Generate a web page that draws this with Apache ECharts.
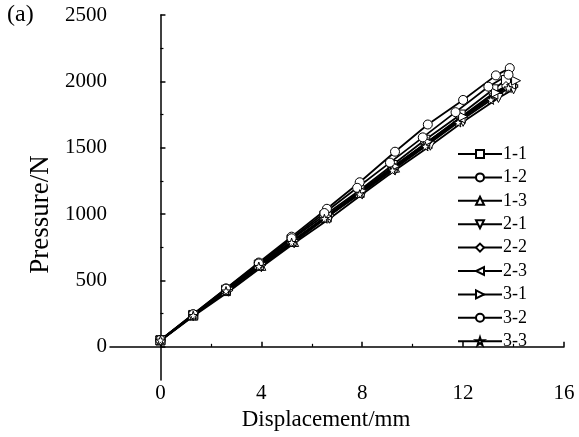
<!DOCTYPE html>
<html><head><meta charset="utf-8">
<script src="https://cdn.jsdelivr.net/npm/echarts@6/dist/echarts.min.js"></script>
<style>html,body{margin:0;padding:0;background:#fff}#c{width:579px;height:437px}</style>
</head><body><div id="c"></div>
<script>
const seriesNames = ['1-1','1-2','1-3','2-1','2-2','2-3','3-1','3-2','3-3'];
const x11 = [0,1.3,2.6,3.9,5.2,6.5,7.9,9.2,10.5,11.9,13.2,13.7];
const y11 = [50,240,430,620,810,990,1180,1370,1560,1750,1940,2010];
const x12 = [0,1.3,2.6,3.9,5.2,6.6,7.9,9.3,10.6,12.0,13.3,13.85];
const y12 = [50,245,440,635,830,1040,1240,1470,1675,1860,2045,2100];
const x13 = [0,1.3,2.6,4.0,5.3,6.6,7.9,9.3,10.6,11.9,13.3,14.0];
const y13 = [48,235,420,610,790,975,1160,1350,1530,1715,1900,1990];
const x21 = [0,1.3,2.7,4.0,5.3,6.7,8.0,9.3,10.7,12.0,13.4,14.0];
const y21 = [45,230,415,600,780,965,1150,1330,1515,1695,1875,1940];
const x22 = [0,1.3,2.6,3.9,5.3,6.6,7.9,9.2,10.6,11.9,13.2,13.7];
const y22 = [50,238,425,612,800,985,1170,1355,1545,1730,1910,1965];
const x23 = [0,1.3,2.6,3.9,5.2,6.6,7.9,9.2,10.5,11.9,13.2,13.9];
const y23 = [52,240,428,612,795,985,1165,1345,1530,1720,1900,1975];
const x31 = [0,1.3,2.7,4.0,5.3,6.6,8.0,9.3,10.6,12.0,13.3,14.1];
const y31 = [48,236,425,615,800,985,1175,1360,1545,1735,1915,2005];
const x32 = [0,1.3,2.6,3.9,5.2,6.5,7.8,9.1,10.4,11.7,13.0,13.8];
const y32 = [52,245,438,628,818,1008,1198,1388,1578,1768,1960,2050];
const x33 = [0,1.3,2.6,3.9,5.2,6.5,7.9,9.2,10.5,11.8,13.1,13.8];
const y33 = [50,235,420,605,785,965,1150,1330,1510,1690,1860,1950];
const xTickLabels = [0,4,8,12,16];
const xMinorTicks = [2,6,10,14];
const yTickLabels = [0,500,1000,1500,2000,2500];
const yMinorTicks = [250,750,1250,1750,2250];

const xs = [x11,x12,x13,x21,x22,x23,x31,x32,x33];
const ys = [y11,y12,y13,y21,y22,y23,y31,y32,y33];
const symbols = [
  'rect','circle','triangle',
  'path://M0,0L10,0L5,10Z',
  'diamond',
  'path://M10,0L10,10L0,5Z',
  'path://M0,0L10,5L0,10Z',
  'circle',
  'path://M5,0L6.2,3.8L10,3.8L6.9,6.1L8.1,10L5,7.6L1.9,10L3.1,6.1L0,3.8L3.8,3.8Z'
];
const font = 'Liberation Serif';
const plain = v => String(v);
const series = seriesNames.map((n,i)=>({
  name:n, type:'line', xAxisIndex:0, yAxisIndex:0,
  data: xs[i].map((x,j)=>[x, ys[i][j]]),
  symbol: symbols[i], symbolSize: 9,
  showAllSymbol:true,
  lineStyle:{color:'#000', width:1.8},
  itemStyle:{color:'#fff', borderColor:'#000', borderWidth:1},
  animation:false
}));
const chart = echarts.init(document.getElementById('c'));
chart.setOption({
  backgroundColor:'#fff',
  animation:false,
  grid:{left:110, right:15, top:15, bottom:57},
  xAxis:[{
    type:'value', min:-2, max:16, position:'bottom',
    name:'Displacement/mm', nameLocation:'middle', nameGap:11,
    nameTextStyle:{fontFamily:font, fontSize:23, color:'#000', padding:[0,22,0,0]},
    axisLine:{lineStyle:{color:'#000', width:1.5}},
    axisTick:{inside:true, length:5, customValues:xTickLabels, lineStyle:{color:'#000', width:1.5}},
    axisLabel:{customValues:xTickLabels, formatter:plain, fontFamily:font, fontSize:21, color:'#000', margin:3},
    splitLine:{show:false}
  },{
    type:'value', min:-2, max:16, position:'bottom', offset:0,
    axisLine:{show:false},
    axisTick:{inside:true, length:3, customValues:xMinorTicks, lineStyle:{color:'#000', width:1.2}},
    axisLabel:{show:false}, splitLine:{show:false}
  }],
  yAxis:[{
    type:'value', min:-250, max:2500, position:'left',
    name:'Pressure/N', nameLocation:'middle', nameGap:48, nameRotate:90,
    nameTextStyle:{fontFamily:font, fontSize:27, color:'#000', padding:[0,34,0,0]},
    axisLine:{lineStyle:{color:'#000', width:1.5}},
    axisTick:{inside:true, length:5, customValues:yTickLabels, lineStyle:{color:'#000', width:1.5}},
    axisLabel:{customValues:yTickLabels, formatter:plain, fontFamily:font, fontSize:21, color:'#000', margin:3},
    splitLine:{show:false}
  },{
    type:'value', min:-250, max:2500, position:'left', offset:0,
    axisLine:{show:false},
    axisTick:{inside:true, length:3, customValues:yMinorTicks, lineStyle:{color:'#000', width:1.2}},
    axisLabel:{show:false}, splitLine:{show:false}
  }],
  legend:{
    orient:'vertical', left:452, top:140,
    itemWidth:44, itemHeight:10, itemGap:5.4,
    data:seriesNames,
    textStyle:{fontFamily:font, fontSize:18, color:'#000', padding:[0,0,0,-4]},
    inactiveColor:'#000'
  },
  graphic:[{type:'text', left:7, top:3, style:{text:'(a)', font:'24px "Liberation Serif"', fill:'#000'}}],
  series: series
});
</script></body></html>
